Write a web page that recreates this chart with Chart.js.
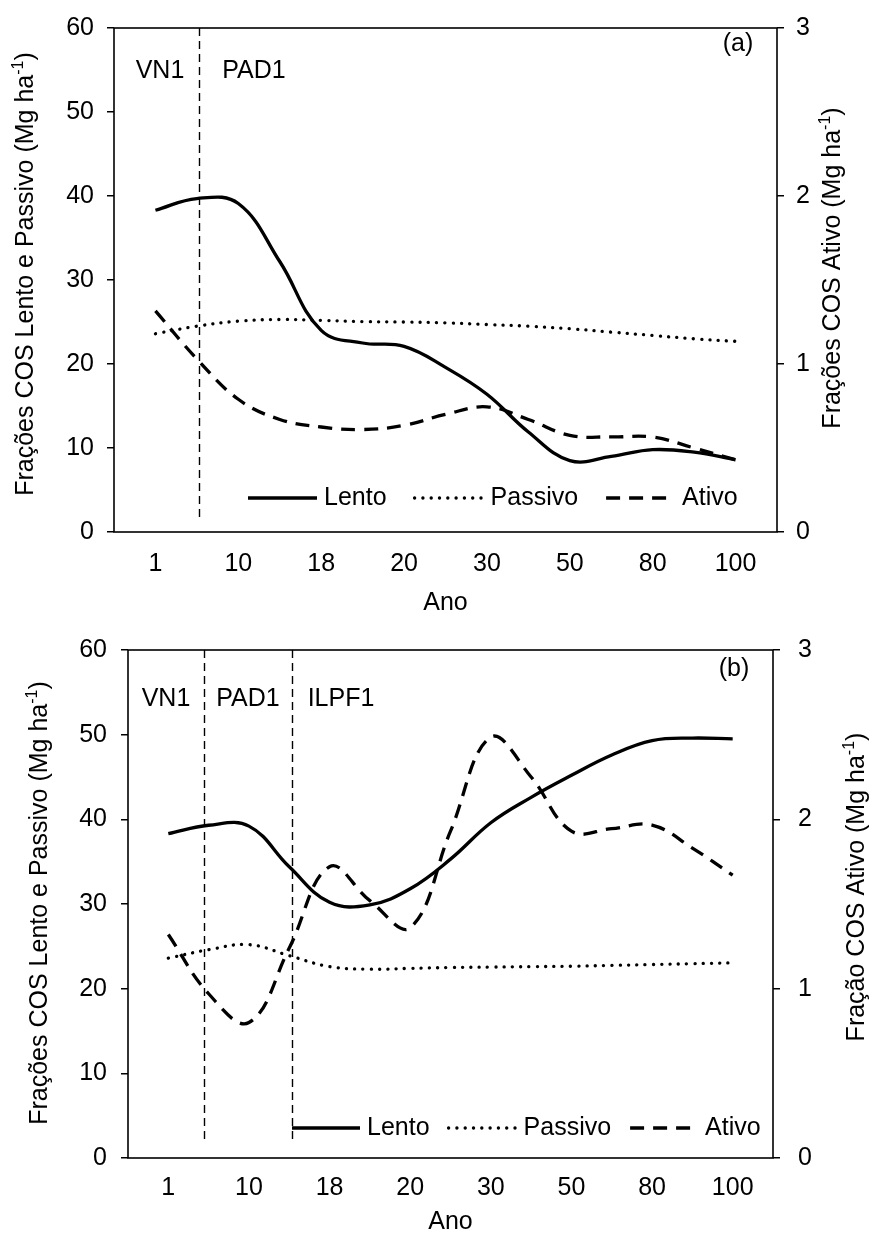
<!DOCTYPE html>
<html>
<head>
<meta charset="utf-8">
<script src="https://cdn.jsdelivr.net/npm/chart.js@4.4.0/dist/chart.umd.min.js"></script>
<style>
  body { margin: 0; background: #fff; }
  canvas { display: block; }
</style>
</head>
<body>
<canvas id="chartA" width="874" height="617"></canvas>
<canvas id="chartB" width="874" height="618"></canvas>
<script>
// year categories on the x axis
const years = ['1', '10', '18', '20', '30', '50', '80', '100'];
// values were read at every half step between the year categories (category index units)
const samplePos = [0, 0.5, 1, 1.5, 2, 2.5, 3, 3.5, 4, 4.5, 5, 5.5, 6, 6.5, 7];

// panel (a)
const lentoA   = [38.3, 39.7, 39.1, 32.2, 24.0, 22.5, 22.1, 19.6, 16.4, 11.9, 8.5, 9.0, 9.8, 9.5, 8.6];
const passivoA = [23.6, 24.5, 25.1, 25.3, 25.2, 25.05, 25.0, 24.9, 24.7, 24.5, 24.2, 23.8, 23.4, 23.0, 22.7];
const ativoA   = [1.316, 1.03, 0.79, 0.67, 0.625, 0.61, 0.635, 0.70, 0.745, 0.67, 0.575, 0.566, 0.565, 0.50, 0.43];

// panel (b)
const lentoB   = [38.3, 39.3, 39.2, 34.4, 30.2, 29.9, 31.8, 35.3, 39.6, 42.6, 45.2, 47.6, 49.3, 49.6, 49.5];
const passivoB = [23.6, 24.6, 25.2, 23.9, 22.6, 22.3, 22.4, 22.5, 22.55, 22.6, 22.65, 22.75, 22.85, 22.95, 23.05];
const ativoB   = [1.32, 0.97, 0.80, 1.24, 1.72, 1.52, 1.36, 1.93, 2.485, 2.25, 1.93, 1.945, 1.966, 1.83, 1.67];

const leftTicks = [0, 10, 20, 30, 40, 50, 60];
const rightTicks = [0, 1, 2, 3];

const FONT = '"Liberation Sans", Arial, sans-serif';
const FS = 25;

function series(label, vals, axis, style) {
  return Object.assign({
    label: label,
    data: samplePos.map((p, i) => ({ x: p, y: vals[i] })),
    yAxisID: axis,
    borderColor: '#000',
    backgroundColor: '#000',
    pointRadius: 0,
    fill: false,
    tension: 0.4
  }, style);
}
const solid  = { borderWidth: 3.3 };
const dotted = { borderWidth: 3.3, borderDash: [0.1, 8.2], borderCapStyle: 'round' };
const dashed = { borderWidth: 3.3, borderDash: [14, 9] };

function supTitle(ctx, main, sup, tail, cx, cy) {
  ctx.save();
  ctx.translate(cx, cy);
  ctx.rotate(-Math.PI / 2);
  ctx.fillStyle = '#000';
  ctx.textBaseline = 'alphabetic';
  ctx.textAlign = 'left';
  const small = Math.round(FS * 0.62);
  ctx.font = FS + 'px ' + FONT;
  const w1 = ctx.measureText(main).width;
  const w3 = ctx.measureText(tail).width;
  ctx.font = small + 'px ' + FONT;
  const w2 = ctx.measureText(sup).width;
  let x = -(w1 + w2 + w3) / 2;
  const base = FS * 0.36;
  ctx.font = FS + 'px ' + FONT;
  ctx.fillText(main, x, base);
  x += w1;
  ctx.font = small + 'px ' + FONT;
  ctx.fillText(sup, x, base - FS * 0.4);
  x += w2;
  ctx.font = FS + 'px ' + FONT;
  ctx.fillText(tail, x, base);
  ctx.restore();
}

const deco = {
  id: 'deco',
  beforeDatasetsDraw(chart, args, o) {
    const { ctx, chartArea: a } = chart;
    const x = chart.scales.x;
    ctx.save();
    ctx.strokeStyle = '#000';
    ctx.lineWidth = 1.4;
    ctx.setLineDash([8, 5]);
    o.dividers.forEach(v => {
      const px = Math.round(x.getPixelForValue(v)) + 0.5;
      ctx.beginPath();
      ctx.moveTo(px, a.top);
      ctx.lineTo(px, a.bottom - 14);
      ctx.stroke();
    });
    ctx.restore();
  },
  afterDraw(chart, args, o) {
    const { ctx, chartArea: a } = chart;
    ctx.save();
    // plot frame
    ctx.strokeStyle = '#000';
    ctx.lineWidth = 1.6;
    ctx.strokeRect(a.left, a.top, a.right - a.left, a.bottom - a.top);

    // phase labels and panel letter
    ctx.fillStyle = '#000';
    ctx.font = FS + 'px ' + FONT;
    ctx.textAlign = 'center';
    ctx.textBaseline = 'middle';
    o.texts.forEach(t => ctx.fillText(t.t, t.x, t.y));

    // legend inside plot
    let lx = o.legend.x;
    const ly = o.legend.y;
    chart.data.datasets.forEach(ds => {
      ctx.save();
      ctx.strokeStyle = '#000';
      ctx.lineWidth = ds.borderWidth;
      ctx.lineCap = ds.borderCapStyle || 'butt';
      ctx.setLineDash(ds.borderDash || []);
      ctx.beginPath();
      ctx.moveTo(lx, ly);
      ctx.lineTo(lx + o.legend.sample, ly);
      ctx.stroke();
      ctx.restore();
      lx += o.legend.sample + o.legend.gap;
      ctx.textAlign = 'left';
      ctx.textBaseline = 'middle';
      ctx.fillText(ds.label, lx, ly);
      lx += ctx.measureText(ds.label).width + o.legend.space;
    });

    // axis titles
    supTitle(ctx, o.leftTitle.text, '-1', ')', o.leftTitle.x, o.leftTitle.y);
    supTitle(ctx, o.rightTitle.text, '-1', ')', o.rightTitle.x, o.rightTitle.y);
    ctx.restore();
  }
};

function makeChart(id, data, cfg) {
  const tickFont = { family: FONT, size: FS };
  return new Chart(document.getElementById(id), {
    type: 'line',
    data: {
      datasets: [
        series('Lento', data[0], 'y', solid),
        series('Passivo', data[1], 'y', dotted),
        series('Ativo', data[2], 'y1', dashed)
      ]
    },
    options: {
      responsive: false,
      animation: false,
      layout: { padding: { top: cfg.top, left: 0, right: 0, bottom: 0 } },
      scales: {
        x: {
          type: 'linear',
          min: -0.5,
          max: 7.5,
          afterBuildTicks: s => { s.ticks = years.map((_, i) => ({ value: i })); },
          afterFit: s => { s.height = cfg.xHeight; },
          grid: { display: false, drawTicks: false },
          border: { display: false },
          ticks: {
            callback: v => years[v],
            autoSkip: false,
            maxRotation: 0,
            padding: cfg.xPad,
            color: '#000',
            font: tickFont
          },
          title: {
            display: true,
            text: 'Ano',
            color: '#000',
            font: { family: FONT, size: FS, lineHeight: 1 },
            padding: { top: 0, bottom: cfg.titlePad }
          }
        },
        y: {
          position: 'left',
          min: 0,
          max: 60,
          afterBuildTicks: s => { s.ticks = leftTicks.map(v => ({ value: v })); },
          afterFit: s => { s.width = cfg.left; },
          grid: { drawOnChartArea: false, color: '#000', lineWidth: 1.5, tickLength: 7 },
          border: { display: false },
          ticks: { padding: cfg.yPad, color: '#000', font: tickFont }
        },
        y1: {
          position: 'right',
          min: 0,
          max: 3,
          afterBuildTicks: s => { s.ticks = rightTicks.map(v => ({ value: v })); },
          afterFit: s => { s.width = cfg.right; },
          grid: { drawOnChartArea: false, color: '#000', lineWidth: 1.5, tickLength: 7 },
          border: { display: false },
          ticks: { padding: cfg.y1Pad, color: '#000', font: tickFont }
        }
      },
      plugins: {
        legend: { display: false },
        tooltip: { enabled: false },
        deco: cfg.deco
      }
    },
    plugins: [deco]
  });
}

makeChart('chartA', [lentoA, passivoA, ativoA], {
  top: 22, left: 114, right: 97, xHeight: 85, xPad: 17, titlePad: 1, yPad: 13, y1Pad: 12,
  deco: {
    dividers: [0.52],
    texts: [
      { t: '(a)', x: 738, y: 44 },
      { t: 'VN1', x: 160, y: 71 },
      { t: 'PAD1', x: 254, y: 71 }
    ],
    legend: { x: 248, y: 498, sample: 69, gap: 7, space: 28 },
    leftTitle: { text: 'Frações COS Lento e Passivo (Mg ha', x: 24, y: 274 },
    rightTitle: { text: 'Frações COS Ativo (Mg ha', x: 831, y: 268 }
  }
});

makeChart('chartB', [lentoB, passivoB, ativoB], {
  top: 32, left: 128, right: 101, xHeight: 77, xPad: 15, titlePad: 0, yPad: 14, y1Pad: 18,
  deco: {
    dividers: [0.44, 1.53],
    texts: [
      { t: '(b)', x: 734, y: 52 },
      { t: 'VN1', x: 166, y: 82 },
      { t: 'PAD1', x: 248, y: 82 },
      { t: 'ILPF1', x: 341, y: 82 }
    ],
    legend: { x: 292, y: 511, sample: 68, gap: 7, space: 19 },
    leftTitle: { text: 'Frações COS Lento e Passivo (Mg ha', x: 38, y: 286 },
    rightTitle: { text: 'Fração COS Ativo (Mg ha', x: 855, y: 270 }
  }
});
</script>
</body>
</html>
